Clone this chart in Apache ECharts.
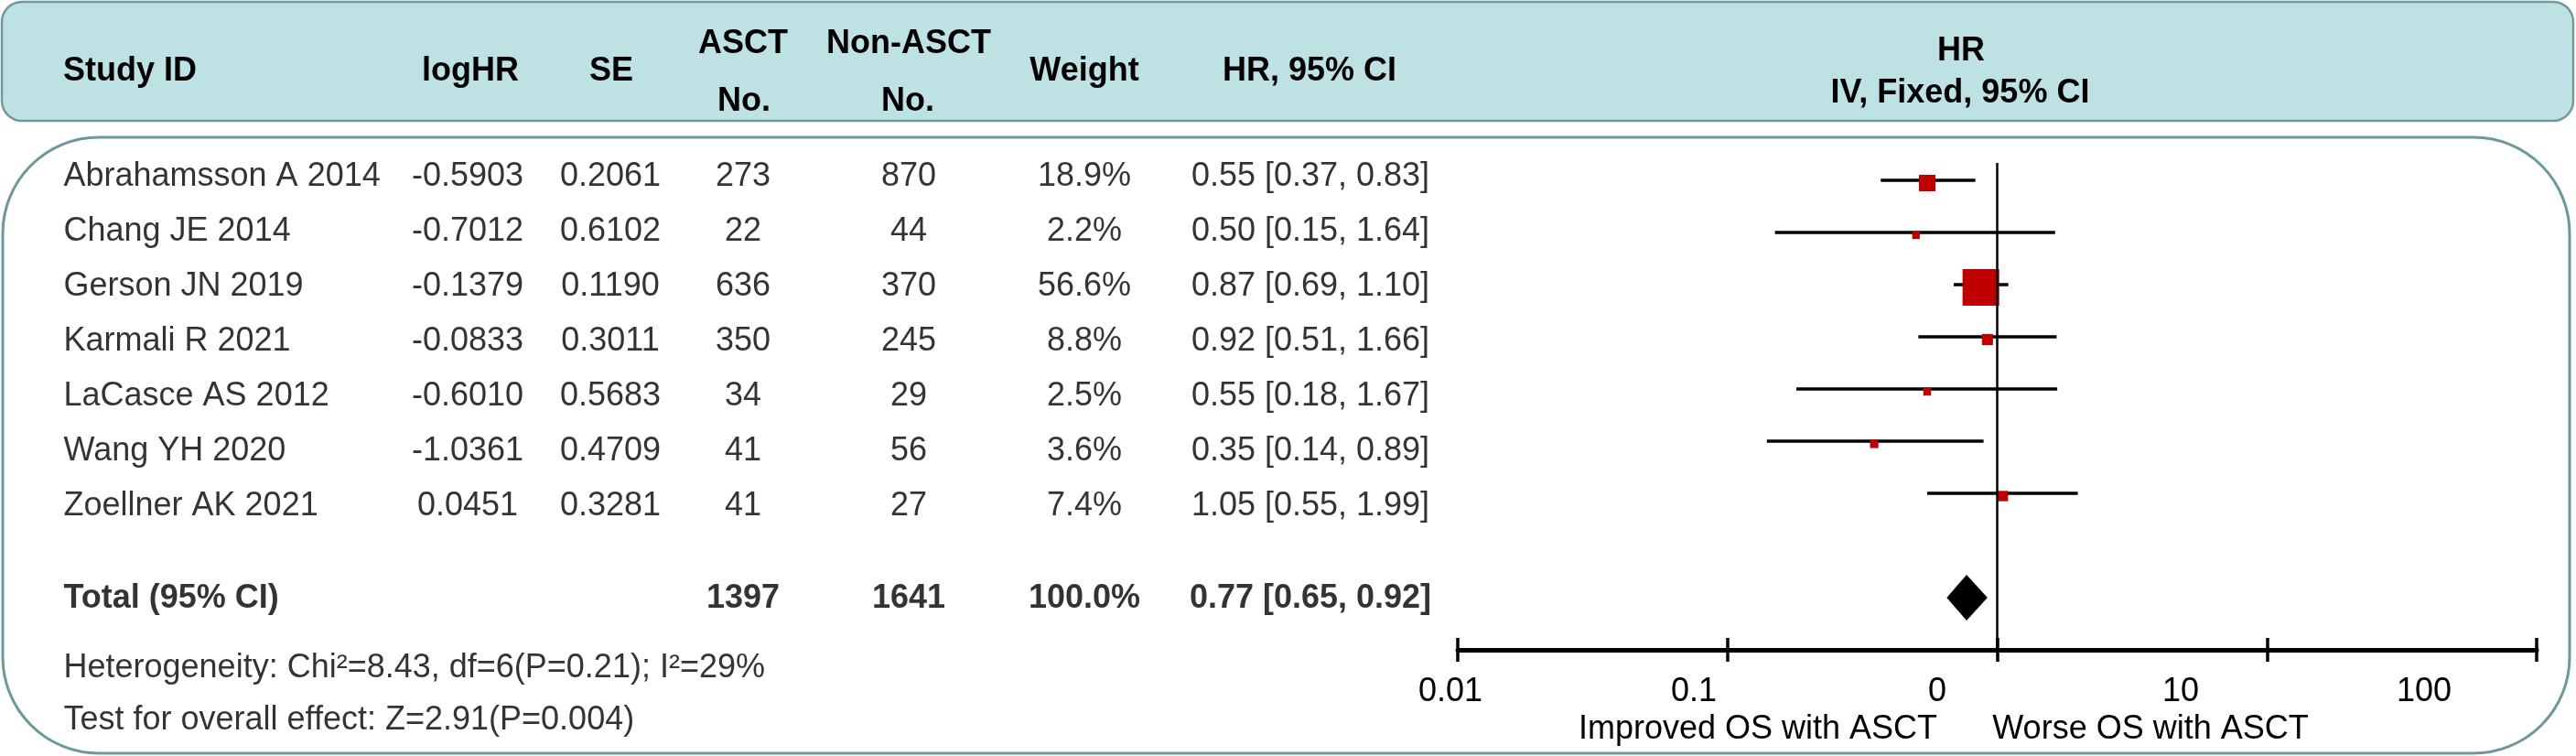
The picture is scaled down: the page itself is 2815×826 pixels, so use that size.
<!DOCTYPE html>
<html>
<head>
<meta charset="utf-8">
<script src="https://cdn.jsdelivr.net/npm/echarts@6/dist/echarts.min.js"></script>
<style>
html,body{margin:0;padding:0;background:#fff;}
#chart{width:2815px;height:826px;}
</style>
</head>
<body>
<div id="chart"></div>
<script>
// ---------------- data ----------------
const studies = ['Abrahamsson A 2014','Chang JE 2014','Gerson JN 2019','Karmali R 2021','LaCasce AS 2012','Wang YH 2020','Zoellner AK 2021'];
const logHR = [-0.5903,-0.7012,-0.1379,-0.0833,-0.6010,-1.0361,0.0451];
const se = [0.2061,0.6102,0.1190,0.3011,0.5683,0.4709,0.3281];
const asctN = [273,22,636,350,34,41,41];
const nonAsctN = [870,44,370,245,29,56,27];
const weights = [18.9,2.2,56.6,8.8,2.5,3.6,7.4];
const hr = [0.55,0.50,0.87,0.92,0.55,0.35,1.05];
const ciLow = [0.37,0.15,0.69,0.51,0.18,0.14,0.55];
const ciHigh = [0.83,1.64,1.10,1.66,1.67,0.89,1.99];
const totalLabel = 'Total (95% CI)';
const totalAsct = 1397;
const totalNonAsct = 1641;
const totalWeight = 100.0;
const totalHR = 0.77;
const totalLow = 0.65;
const totalHigh = 0.92;
const tickLabels = ['0.01','0.1','0','10','100'];
const footnotes = ['Heterogeneity: Chi\u00b2=8.43, df=6(P=0.21); I\u00b2=29%','Test for overall effect: Z=2.91(P=0.004)'];
const favourLabels = ['Improved OS with ASCT','Worse OS with ASCT'];

// ---------------- layout ----------------
const FONT = '"Liberation Sans", Arial, sans-serif';
const FS = 36;
const col = {study:69, logHR:511, se:667, asct:812, non:993, weight:1185, hr:1432};
const totalRowPos = 7.675;       // in table-row units
const footRowPos = [8.94, 9.89];
const plotTotalRow = 8;          // in plot-row units
const TY = 4;                    // vertical text nudge

const fmtCI = (h,l,u) => h.toFixed(2) + ' [' + l.toFixed(2) + ', ' + u.toFixed(2) + ']';

function textCol(x, items, align) {
  return {
    type:'scatter', xAxisIndex:3, yAxisIndex:3, symbolSize:1, silent:true, clip:false,
    itemStyle:{color:'rgba(0,0,0,0)'},
    label:{show:true, position: align === 'left' ? 'right' : 'inside', distance:0,
      formatter: p => p.name, fontSize:FS, fontFamily:FONT, color:'#000'},
    labelLayout:{hideOverlap:false},
    data: items.map(it => ({name:it.text, value:[x, it.y], label:{fontWeight: it.bold ? 'bold' : 'normal'}}))
  };
}
const rowsOf = (arr, f) => arr.map((v,i) => ({text:f(v,i), y:i}));

const tableSeries = [
  textCol(col.study, rowsOf(studies, v=>v).concat([{text:totalLabel, y:totalRowPos, bold:true}],
    footnotes.map((t,k)=>({text:t, y:footRowPos[k]}))), 'left'),
  textCol(col.logHR, rowsOf(logHR, v=>v.toFixed(4)), 'center'),
  textCol(col.se, rowsOf(se, v=>v.toFixed(4)), 'center'),
  textCol(col.asct, rowsOf(asctN, v=>String(v)).concat([{text:String(totalAsct), y:totalRowPos, bold:true}]), 'center'),
  textCol(col.non, rowsOf(nonAsctN, v=>String(v)).concat([{text:String(totalNonAsct), y:totalRowPos, bold:true}]), 'center'),
  textCol(col.weight, rowsOf(weights, v=>v.toFixed(1)+'%').concat([{text:totalWeight.toFixed(1)+'%', y:totalRowPos, bold:true}]), 'center'),
  textCol(col.hr, rowsOf(hr, (v,i)=>fmtCI(v, ciLow[i], ciHigh[i])).concat([{text:fmtCI(totalHR,totalLow,totalHigh), y:totalRowPos, bold:true}]), 'center')
];

const forestData = studies.map((s,i) => [i, hr[i], ciLow[i], ciHigh[i], weights[i]]);

const headers = [
  {text:'Study ID', x:69, y:74, align:'left'},
  {text:'logHR', x:514, y:74},
  {text:'SE', x:668, y:74},
  {text:'ASCT', x:812, y:44},
  {text:'No.', x:813, y:107},
  {text:'Non-ASCT', x:993, y:44},
  {text:'No.', x:992, y:107},
  {text:'Weight', x:1185, y:74},
  {text:'HR, 95% CI', x:1431, y:74},
  {text:'HR', x:2143, y:52},
  {text:'IV, Fixed, 95% CI', x:2142, y:98}
];

const graphics = [
  {type:'rect', z:0, shape:{x:2, y:2, width:2810, height:130, r:22},
   style:{fill:'#bee1e4', stroke:'#75999b', lineWidth:2.5}},
  {type:'rect', z:0, shape:{x:3, y:150, width:2805, height:673, r:105},
   style:{fill:'#fff', stroke:'#6e9799', lineWidth:3}}
].concat(headers.map(h => ({type:'text', z:10, style:{text:h.text, x:h.x, y:h.y + TY,
  align:h.align || 'center', verticalAlign:'middle', font:'bold '+FS+'px '+FONT, fill:'#000'}})))
 .concat([
  {type:'text', z:10, style:{text:favourLabels[0], x:1921, y:793 + TY, align:'center', verticalAlign:'middle', font:FS+'px '+FONT, fill:'#000'}},
  {type:'text', z:10, style:{text:favourLabels[1], x:2350, y:793 + TY, align:'center', verticalAlign:'middle', font:FS+'px '+FONT, fill:'#000'}}
 ]);

const logAxisBase = {type:'log', logBase:10, min:0.01, max:100, position:'bottom', splitLine:{show:false}};

const chart = echarts.init(document.getElementById('chart'), null, {renderer:'canvas'});
chart.setOption({
  animation:false,
  backgroundColor:'#fff',
  graphic: graphics,
  grid:[
    {left:1593, right:43, top:178, bottom:116, outerBoundsMode:'none'},
    {left:1593, right:43, top:178, bottom:116, outerBoundsMode:'none'},
    {left:1585, right:166, top:178, bottom:116, outerBoundsMode:'none'},
    {left:0, top:189.5 + TY, width:2815, height:600, outerBoundsMode:'none'}
  ],
  xAxis:[
    Object.assign({gridIndex:0,
     axisLine:{show:true, onZero:false, lineStyle:{color:'#000', width:5}},
     axisTick:{show:true, inside:false, length:13, lineStyle:{color:'#000', width:3.5}},
     axisLabel:{show:false}}, logAxisBase),
    Object.assign({gridIndex:1,
     axisLine:{show:false, onZero:false},
     axisTick:{show:true, inside:true, length:13, lineStyle:{color:'#000', width:3.5}},
     axisLabel:{show:false}}, logAxisBase),
    Object.assign({gridIndex:2,
     axisLine:{show:false, onZero:false}, axisTick:{show:false},
     axisLabel:{show:true, margin:28, fontSize:FS, fontFamily:FONT, color:'#000',
       formatter: v => tickLabels[Math.round(Math.log10(v)) + 2]}}, logAxisBase),
    {gridIndex:3, type:'value', min:0, max:2815, show:false}
  ],
  yAxis:[
    {gridIndex:0, type:'value', inverse:true, min:-1/3, max:9, show:false},
    {gridIndex:1, type:'value', min:0, max:1, show:false},
    {gridIndex:2, type:'value', min:0, max:1, show:false},
    {gridIndex:3, type:'value', inverse:true, min:0, max:10, show:false}
  ],
  series:[
    {
      type:'custom', xAxisIndex:0, yAxisIndex:0, silent:true, clip:false,
      data: forestData,
      encode:{x:[1,2,3], y:0},
      renderItem:(params, api) => {
        const i = api.value(0);
        const p = api.coord([api.value(1), i]);
        const pl = api.coord([api.value(2), i]);
        const ph = api.coord([api.value(3), i]);
        const s = 7 + 0.584 * api.value(4);
        return {type:'group', children:[
          {type:'line', shape:{x1:pl[0], y1:pl[1], x2:ph[0], y2:ph[1]}, style:{stroke:'#000', lineWidth:3.5}},
          {type:'rect', shape:{x:p[0]-s/2, y:p[1]-s/2+3, width:s, height:s}, style:{fill:'#c00000'}}
        ]};
      },
      markLine:{silent:true, symbol:['none','none'], label:{show:false},
        lineStyle:{color:'#000', width:2.5, type:'solid'}, data:[{xAxis:1}]}
    },
    {
      type:'custom', xAxisIndex:0, yAxisIndex:0, silent:true, clip:false,
      data:[[plotTotalRow, totalHR, totalLow, totalHigh]],
      encode:{x:[1,2,3], y:0},
      renderItem:(params, api) => {
        const i = api.value(0);
        const c = api.coord([api.value(1), i]);
        const l = api.coord([api.value(2), i]);
        const u = api.coord([api.value(3), i]);
        return {type:'polygon', shape:{points:[[l[0],l[1]],[c[0],c[1]-25],[u[0],u[1]],[c[0],c[1]+25]]}, style:{fill:'#000'}};
      }
    }
  ].concat(tableSeries)
});
</script>
</body>
</html>
